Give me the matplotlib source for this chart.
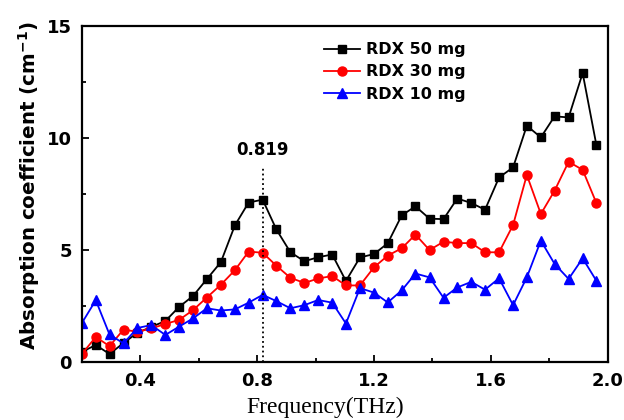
import matplotlib.pyplot as plt
from matplotlib.ticker import MultipleLocator

# Data
freq = [0.200, 0.248, 0.295, 0.343, 0.390, 0.438, 0.486, 0.533, 0.581, 0.628,
        0.676, 0.724, 0.771, 0.819, 0.866, 0.914, 0.962, 1.009, 1.057, 1.104,
        1.152, 1.200, 1.247, 1.295, 1.342, 1.390, 1.438, 1.485, 1.533, 1.580,
        1.628, 1.676, 1.723, 1.771, 1.818, 1.866, 1.914, 1.961]
rdx_50 = [0.45, 0.76, 0.36, 0.85, 1.30, 1.57, 1.83, 2.46, 2.95, 3.70,
          4.46, 6.10, 7.12, 7.25, 5.92, 4.90, 4.50, 4.68, 4.80, 3.62,
          4.67, 4.82, 5.30, 6.55, 6.95, 6.40, 6.38, 7.30, 7.10, 6.80,
          8.24, 8.69, 10.55, 10.03, 10.97, 10.92, 12.90, 9.69]
rdx_30 = [0.35, 1.12, 0.71, 1.45, 1.35, 1.50, 1.70, 1.88, 2.32, 2.88,
          3.45, 4.10, 4.93, 4.88, 4.30, 3.76, 3.53, 3.73, 3.84, 3.42,
          3.42, 4.23, 4.75, 5.08, 5.69, 5.00, 5.37, 5.31, 5.31, 4.90,
          4.90, 6.12, 8.35, 6.61, 7.65, 8.94, 8.58, 7.10]
rdx_10 = [1.73, 2.76, 1.23, 0.83, 1.52, 1.65, 1.21, 1.58, 1.95, 2.40,
          2.30, 2.35, 2.65, 3.00, 2.72, 2.40, 2.54, 2.77, 2.65, 1.72,
          3.30, 3.10, 2.66, 3.20, 3.95, 3.78, 2.87, 3.33, 3.58, 3.23,
          3.74, 2.54, 3.78, 5.42, 4.38, 3.71, 4.63, 3.63]
peak_freq = 0.819
peak_top = 8.7

fig = plt.figure(figsize=(6.24, 4.2), dpi=100)
ax = fig.add_axes([0.131, 0.138, 0.843, 0.800])

ax.plot(freq, rdx_50, color='black', marker='s', markersize=6, lw=1.3, label='RDX 50 mg')
ax.plot(freq, rdx_30, color='red', marker='o', markersize=6.5, lw=1.3, label='RDX 30 mg')
ax.plot(freq, rdx_10, color='blue', marker='^', markersize=7, lw=1.3, label='RDX 10 mg')

# peak marker
ax.plot([peak_freq, peak_freq], [0, peak_top], color='black', linestyle=':', lw=1.3)
ax.text(peak_freq, 9.45, '0.819', ha='center', va='center', fontsize=12, fontweight='bold')

# Axes setup
ax.set_xlim(0.2, 2.0)
ax.set_ylim(0, 15)
ax.xaxis.set_minor_locator(MultipleLocator(0.2))
ax.yaxis.set_major_locator(MultipleLocator(5))
ax.yaxis.set_minor_locator(MultipleLocator(2.5))
ax.set_xticks([0.4, 0.8, 1.2, 1.6, 2.0])
ax.set_xticklabels(['0.4', '0.8', '1.2', '1.6', '2.0'])
ax.tick_params(which='both', direction='in', top=False, right=False, width=1.3)
ax.tick_params(which='major', length=5, labelsize=13, pad=7)
ax.tick_params(which='minor', length=3)
for lbl in ax.get_xticklabels() + ax.get_yticklabels():
    lbl.set_fontweight('bold')
for s in ax.spines.values():
    s.set_linewidth(1.6)

fig.text(0.521, 0.017, 'Frequency(THz)', ha='center', va='baseline',
         fontsize=17, family='Liberation Serif')
fig.text(0.047, 0.167, 'Absorption coefficient (cm$^{\\mathbf{-1}}$)', rotation=90,
         ha='center', va='bottom', fontsize=14.3, fontweight='bold')

leg = ax.legend(loc='upper left', bbox_to_anchor=(0.44, 0.985), frameon=False,
                prop={'size': 11.5, 'weight': 'bold'}, handlelength=2.2,
                handletextpad=0.4, labelspacing=0.45, borderpad=0.2)

fig.savefig('out.png', dpi=100)
